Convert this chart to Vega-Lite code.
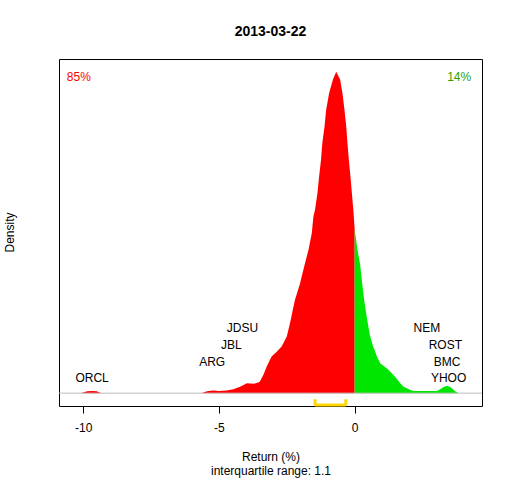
{
  "$schema": "https://vega.github.io/schema/vega-lite/v6.json",
  "autosize": "none",
  "padding": {"left": 59, "top": 59, "right": 30, "bottom": 74},
  "width": 423,
  "height": 347,
  "title": {
    "text": "2013-03-22",
    "fontSize": 14,
    "fontWeight": "bold",
    "font": "Liberation Sans",
    "color": "black",
    "anchor": "middle",
    "baseline": "alphabetic",
    "offset": 9
  },
  "datasets": {
    "density": [
      {"x": -10.89, "d": 0, "side": "neg"},
      {"x": -10.1, "d": 0, "side": "neg"},
      {"x": -10.0, "d": 0.002, "side": "neg"},
      {"x": -9.85, "d": 0.006, "side": "neg"},
      {"x": -9.7, "d": 0.007, "side": "neg"},
      {"x": -9.5, "d": 0.006, "side": "neg"},
      {"x": -9.4, "d": 0.002, "side": "neg"},
      {"x": -9.3, "d": 0, "side": "neg"},
      {"x": -5.65, "d": 0, "side": "neg"},
      {"x": -5.55, "d": 0.003, "side": "neg"},
      {"x": -5.4, "d": 0.007, "side": "neg"},
      {"x": -5.2, "d": 0.008, "side": "neg"},
      {"x": -5.0, "d": 0.007, "side": "neg"},
      {"x": -4.72, "d": 0.008, "side": "neg"},
      {"x": -4.47, "d": 0.012, "side": "neg"},
      {"x": -4.22, "d": 0.02, "side": "neg"},
      {"x": -3.97, "d": 0.031, "side": "neg"},
      {"x": -3.85, "d": 0.03, "side": "neg"},
      {"x": -3.72, "d": 0.029, "side": "neg"},
      {"x": -3.55, "d": 0.033, "side": "neg"},
      {"x": -3.49, "d": 0.036, "side": "neg"},
      {"x": -3.36, "d": 0.057, "side": "neg"},
      {"x": -3.24, "d": 0.083, "side": "neg"},
      {"x": -3.06, "d": 0.114, "side": "neg"},
      {"x": -2.87, "d": 0.129, "side": "neg"},
      {"x": -2.69, "d": 0.145, "side": "neg"},
      {"x": -2.5, "d": 0.176, "side": "neg"},
      {"x": -2.38, "d": 0.218, "side": "neg"},
      {"x": -2.28, "d": 0.259, "side": "neg"},
      {"x": -2.2, "d": 0.29, "side": "neg"},
      {"x": -2.01, "d": 0.342, "side": "neg"},
      {"x": -1.86, "d": 0.394, "side": "neg"},
      {"x": -1.7, "d": 0.446, "side": "neg"},
      {"x": -1.58, "d": 0.498, "side": "neg"},
      {"x": -1.52, "d": 0.55, "side": "neg"},
      {"x": -1.46, "d": 0.571, "side": "neg"},
      {"x": -1.37, "d": 0.623, "side": "neg"},
      {"x": -1.31, "d": 0.674, "side": "neg"},
      {"x": -1.24, "d": 0.726, "side": "neg"},
      {"x": -1.19, "d": 0.779, "side": "neg"},
      {"x": -1.11, "d": 0.83, "side": "neg"},
      {"x": -1.05, "d": 0.882, "side": "neg"},
      {"x": -0.94, "d": 0.934, "side": "neg"},
      {"x": -0.8, "d": 0.976, "side": "neg"},
      {"x": -0.68, "d": 1.0, "side": "neg"},
      {"x": -0.535, "d": 0.976, "side": "neg"},
      {"x": -0.45, "d": 0.934, "side": "neg"},
      {"x": -0.376, "d": 0.882, "side": "neg"},
      {"x": -0.31, "d": 0.83, "side": "neg"},
      {"x": -0.266, "d": 0.779, "side": "neg"},
      {"x": -0.214, "d": 0.726, "side": "neg"},
      {"x": -0.155, "d": 0.674, "side": "neg"},
      {"x": -0.103, "d": 0.623, "side": "neg"},
      {"x": -0.044, "d": 0.565, "side": "neg"},
      {"x": 0, "d": 0.51, "side": "neg"},
      {"x": 0, "d": 0.51, "side": "pos"},
      {"x": 0.103, "d": 0.446, "side": "pos"},
      {"x": 0.203, "d": 0.4, "side": "pos"},
      {"x": 0.277, "d": 0.342, "side": "pos"},
      {"x": 0.35, "d": 0.29, "side": "pos"},
      {"x": 0.44, "d": 0.24, "side": "pos"},
      {"x": 0.56, "d": 0.18, "side": "pos"},
      {"x": 0.68, "d": 0.145, "side": "pos"},
      {"x": 0.73, "d": 0.135, "side": "pos"},
      {"x": 0.82, "d": 0.114, "side": "pos"},
      {"x": 0.94, "d": 0.093, "side": "pos"},
      {"x": 1.2, "d": 0.076, "side": "pos"},
      {"x": 1.45, "d": 0.055, "side": "pos"},
      {"x": 1.68, "d": 0.031, "side": "pos"},
      {"x": 1.8, "d": 0.02, "side": "pos"},
      {"x": 1.92, "d": 0.015, "side": "pos"},
      {"x": 2.05, "d": 0.01, "side": "pos"},
      {"x": 2.17, "d": 0.007, "side": "pos"},
      {"x": 3.03, "d": 0.007, "side": "pos"},
      {"x": 3.15, "d": 0.012, "side": "pos"},
      {"x": 3.28, "d": 0.019, "side": "pos"},
      {"x": 3.4, "d": 0.023, "side": "pos"},
      {"x": 3.5, "d": 0.02, "side": "pos"},
      {"x": 3.58, "d": 0.015, "side": "pos"},
      {"x": 3.7, "d": 0.006, "side": "pos"},
      {"x": 3.83, "d": 0, "side": "pos"},
      {"x": 4.69, "d": 0, "side": "pos"}
    ],
    "stocks": [
      {"label": "ORCL", "x": -9.67, "y": 0.046},
      {"label": "ARG", "x": -5.25, "y": 0.098},
      {"label": "JBL", "x": -4.54, "y": 0.151},
      {"label": "JDSU", "x": -4.13, "y": 0.204},
      {"label": "NEM", "x": 2.66, "y": 0.204},
      {"label": "ROST", "x": 3.34, "y": 0.151},
      {"label": "BMC", "x": 3.4, "y": 0.098},
      {"label": "YHOO", "x": 3.46, "y": 0.046}
    ],
    "pct": [
      {"label": "85%", "x": -10.16, "y": 0.983, "side": "neg"},
      {"label": "14%", "x": 3.85, "y": 0.983, "side": "pos"}
    ],
    "quartiles": [
      {"q": "Q1", "x": -1.457},
      {"q": "Q3", "x": -0.325}
    ]
  },
  "encoding": {
    "x": {
      "type": "quantitative",
      "scale": {"domain": [-10.89, 4.69], "nice": false, "zero": false},
      "axis": {
        "values": [-10, -5, 0],
        "labelExpr": "'' + datum.value",
        "domain": false,
        "grid": false,
        "tickColor": "black",
        "tickSize": 7,
        "labelPadding": 9,
        "labelFontSize": 12,
        "labelColor": "black",
        "labelFont": "Liberation Sans",
        "title": ["Return (%)", "interquartile range: 1.1"],
        "titleFont": "Liberation Sans",
        "titleFontWeight": "normal",
        "titleFontSize": 12,
        "titleColor": "black",
        "titleY": 45,
        "titleBaseline": "top",
        "titleLineHeight": 14
      }
    },
    "y": {
      "type": "quantitative",
      "scale": {"domain": [-0.04, 1.04], "nice": false, "zero": false},
      "axis": {
        "labels": false,
        "ticks": false,
        "domain": false,
        "grid": false,
        "title": "Density",
        "titleFont": "Liberation Sans",
        "titleFontWeight": "normal",
        "titleFontSize": 12,
        "titleColor": "black",
        "titleX": -50,
        "titleY": 173,
        "titleAngle": -90,
        "titleAlign": "center",
        "titleBaseline": "middle"
      }
    }
  },
  "layer": [
    {
      "data": {"name": "density"},
      "mark": {"type": "area", "interpolate": "linear"},
      "encoding": {
        "x": {"field": "x", "type": "quantitative"},
        "y": {"field": "d", "type": "quantitative"},
        "y2": {"datum": 0},
        "color": {
          "field": "side",
          "type": "nominal",
          "scale": {"domain": ["neg", "pos"], "range": ["#FF0000", "#00E600"]},
          "legend": null
        }
      }
    },
    {
      "data": {"values": [{}]},
      "mark": {"type": "rule", "color": "#BEBEBE", "strokeWidth": 1},
      "encoding": {"y": {"datum": 0}}
    },
    {
      "data": {"name": "quartiles"},
      "mark": {"type": "rule", "color": "#FFD700", "strokeWidth": 3},
      "encoding": {
        "x": {"field": "x", "type": "quantitative"},
        "y": {"datum": -0.019},
        "y2": {"datum": -0.038}
      }
    },
    {
      "data": {"name": "quartiles"},
      "transform": [
        {"pivot": "q", "value": "x"}
      ],
      "mark": {"type": "rule", "color": "#FFD700", "strokeWidth": 3},
      "encoding": {
        "x": {"field": "Q1", "type": "quantitative"},
        "x2": {"field": "Q3"},
        "y": {"datum": -0.037}
      }
    },
    {
      "data": {"name": "stocks"},
      "mark": {"type": "text", "font": "Liberation Sans", "fontSize": 12, "baseline": "middle", "color": "black"},
      "encoding": {
        "x": {"field": "x", "type": "quantitative"},
        "y": {"field": "y", "type": "quantitative"},
        "text": {"field": "label"}
      }
    },
    {
      "data": {"name": "pct"},
      "mark": {"type": "text", "font": "Liberation Sans", "fontSize": 12, "baseline": "middle"},
      "encoding": {
        "x": {"field": "x", "type": "quantitative"},
        "y": {"field": "y", "type": "quantitative"},
        "text": {"field": "label"},
        "color": {
          "condition": {"test": "datum.side == 'neg'", "value": "#FF0000"},
          "value": "#33A000"
        }
      }
    }
  ],
  "config": {
    "view": {"stroke": "black", "strokeWidth": 1},
    "font": "Liberation Sans"
  }
}
